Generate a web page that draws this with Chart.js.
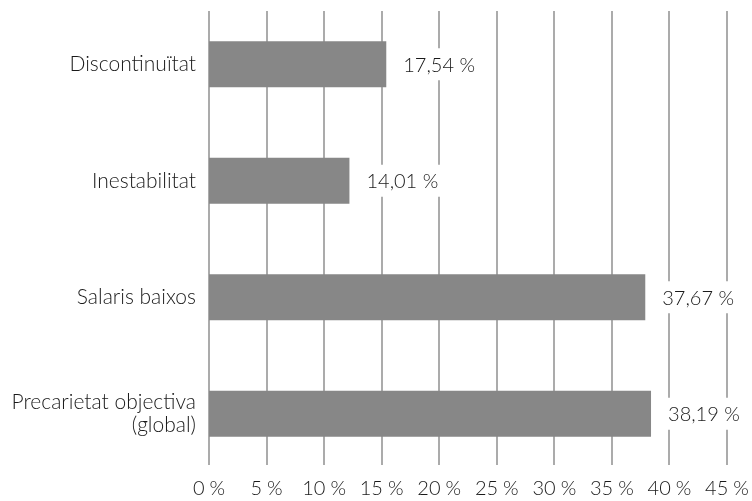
<!DOCTYPE html>
<html>
<head>
<meta charset="utf-8">
<script src="https://cdn.jsdelivr.net/npm/chart.js@4/dist/chart.umd.min.js"></script>
<style>
  html, body { margin: 0; padding: 0; background: #fff; }
  #wrap { width: 752px; height: 501px; }
</style>
</head>
<body>
<div id="wrap"><canvas id="chart" width="752" height="501"></canvas></div>
<script>
// data
const categories = [
  "Discontinuïtat",
  "Inestabilitat",
  "Salaris baixos",
  ["Precarietat objectiva", "(global)"],
];
// printed values next to the bars
const labelValues = [17.54, 14.01, 37.67, 38.19];
// bar lengths as drawn in the picture (the first two are shorter than their labels)
const barLengths = [15.4, 12.2, 37.9, 38.4];
const axisMax = 45;
const axisStep = 5;

const FONT = "Lato, 'Open Sans', sans-serif";

// format 17.54 -> "17,54 %"
function pct(v, decimals) {
  return v.toFixed(decimals).replace(".", ",") + " %";
}

// vertical grid lines, a bit shorter than the plot area
const gridLines = {
  id: "gridLines",
  beforeDatasetsDraw(chart) {
    const { ctx, chartArea, scales } = chart;
    const x = scales.x;
    ctx.save();
    ctx.strokeStyle = "#ababab";
    ctx.lineWidth = 2;
    x.ticks.forEach((t) => {
      const px = Math.round(x.getPixelForValue(t.value));
      ctx.beginPath();
      ctx.moveTo(px, chartArea.top + 5);
      ctx.lineTo(px, chartArea.bottom - 7);
      ctx.stroke();
    });
    ctx.restore();
  },
};

// value labels to the right of each bar, on a white box
const barLabels = {
  id: "barLabels",
  afterDatasetsDraw(chart) {
    const { ctx } = chart;
    const meta = chart.getDatasetMeta(0);
    ctx.save();
    ctx.font = "300 20px " + FONT;
    ctx.textBaseline = "middle";
    ctx.textAlign = "left";
    meta.data.forEach((bar, i) => {
      const text = pct(labelValues[i], 2);
      const w = ctx.measureText(text).width;
      const tx = bar.x + 17;
      ctx.fillStyle = "#fff";
      ctx.fillRect(bar.x + 3, bar.y - 16, w + 26, 32);
      ctx.fillStyle = "#1a1a1a";
      ctx.fillText(text, tx, bar.y + 1);
    });
    ctx.restore();
  },
};

new Chart(document.getElementById("chart").getContext("2d"), {
  type: "bar",
  data: {
    labels: categories,
    datasets: [
      {
        data: barLengths,
        backgroundColor: "#878787",
        borderWidth: 0,
        barPercentage: 0.394,
        categoryPercentage: 1,
      },
    ],
  },
  options: {
    indexAxis: "y",
    responsive: false,
    animation: false,
    events: [],
    layout: { padding: { top: 6, right: 25, bottom: 0, left: 0 } },
    plugins: {
      legend: { display: false },
      tooltip: { enabled: false },
    },
    scales: {
      x: {
        min: 0,
        max: axisMax,
        afterFit(scale) {
          scale.height = 29;
          scale.paddingLeft = 0;
          scale.paddingRight = 0;
        },
        grid: { display: false, drawTicks: false },
        border: { display: false },
        ticks: {
          stepSize: axisStep,
          padding: 5,
          color: "#1a1a1a",
          font: { family: FONT, size: 20, weight: 300 },
          callback: (v) => v + "\u2005%",
        },
      },
      y: {
        afterFit(scale) {
          scale.width = 209;
          scale.paddingTop = 0;
          scale.paddingBottom = 0;
        },
        grid: { display: false, drawTicks: false },
        border: { display: false },
        ticks: {
          padding: 13,
          color: "#1a1a1a",
          font: { family: FONT, size: 21, weight: 300, lineHeight: 1.12 },
        },
      },
    },
  },
  plugins: [gridLines, barLabels],
});
</script>
</body>
</html>
